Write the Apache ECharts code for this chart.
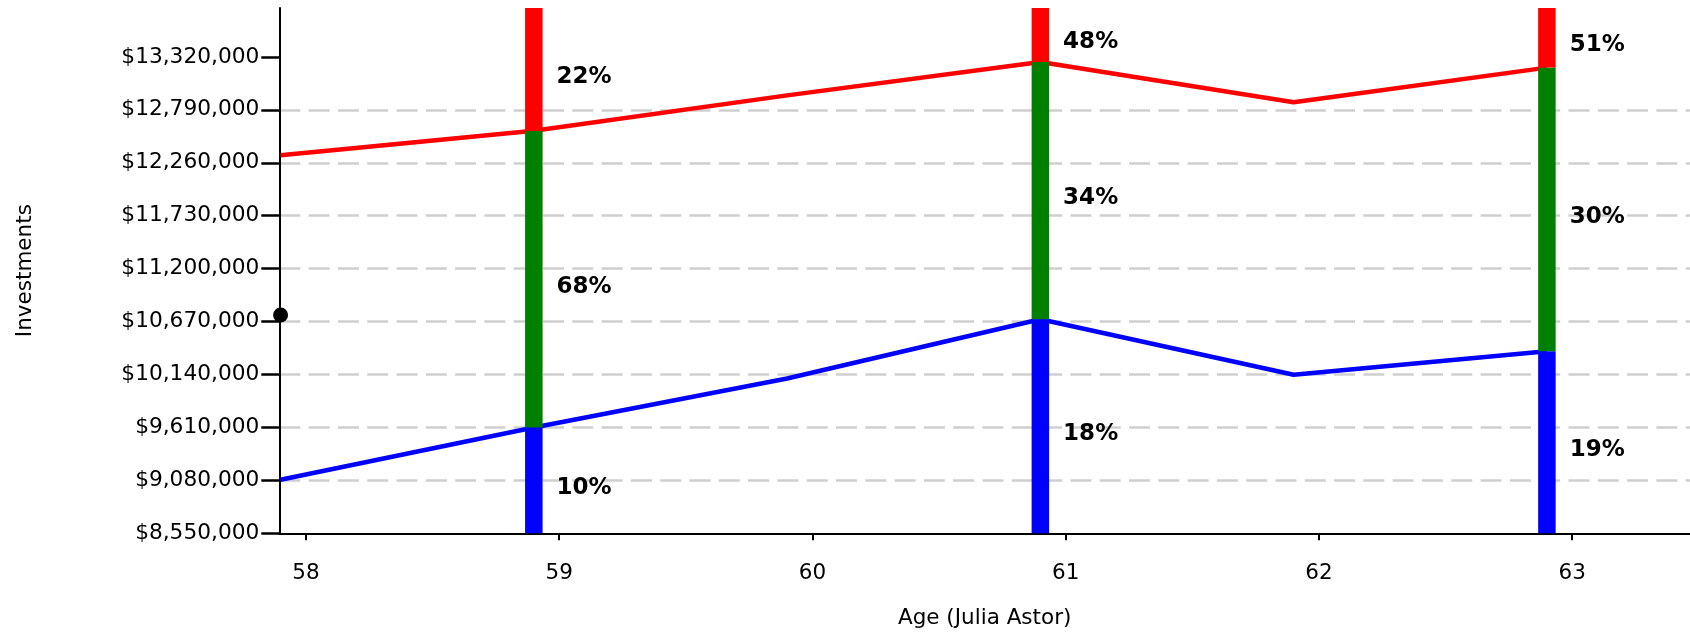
<!DOCTYPE html>
<html>
<head>
<meta charset="utf-8">
<script src="https://cdn.jsdelivr.net/npm/echarts@6/dist/echarts.min.js"></script>
<style>
  html, body { margin: 0; padding: 0; background: #ffffff; }
  #chart { width: 1690px; height: 633px; }
</style>
</head>
<body>
<div id="chart"></div>
<script>
// Projected investment range by age
const ages = [57.9, 58.9, 59.9, 60.9, 61.9, 62.9];
const lowerValues = [9087000, 9610000, 10100000, 10693000, 10138000, 10372000];
const upperValues = [12336000, 12580000, 12935000, 13270000, 12866000, 13213000];

// Ages with a split column and the share printed beside each segment
const barAges = [58.9, 60.9, 62.9];
const lowerShare = ['10%', '18%', '19%'];
const middleShare = ['68%', '34%', '30%'];
const upperShare = ['22%', '48%', '51%'];

// Current position marker
const currentAge = 57.9;
const currentValue = 10736000;

// Axes
const xTicks = [58, 59, 60, 61, 62, 63];
const yTicks = [8550000, 9080000, 9610000, 10140000, 10670000, 11200000, 11730000, 12260000, 12790000, 13320000];
const xMin = 57.895, xMax = 63.465;
const yMin = 8550000, yMax = 13810000;

const FONT = '"DejaVu Sans", Verdana, sans-serif';
const BAR_W = 17.5;

const valueAt = (arr, age) => arr[ages.indexOf(age)];

// [age, from, to] for each column segment
const lowerSeg = barAges.map(a => [a, yMin, valueAt(lowerValues, a)]);
const middleSeg = barAges.map(a => [a, valueAt(lowerValues, a), valueAt(upperValues, a)]);
const upperSeg = barAges.map(a => [a, valueAt(upperValues, a), yMax]);

function segmentSeries(name, data, color, labels) {
  return {
    name: name,
    type: 'custom',
    z: 4,
    data: data,
    encode: { x: 0, y: [1, 2] },
    renderItem: function (params, api) {
      const x = api.value(0);
      const p0 = api.coord([x, api.value(1)]);
      const p1 = api.coord([x, api.value(2)]);
      return {
        type: 'rect',
        shape: { x: p0[0] - BAR_W / 2, y: p1[1], width: BAR_W, height: p0[1] - p1[1] },
        style: { fill: color },
        textContent: {
          style: {
            text: labels[params.dataIndex],
            fill: '#000000',
            font: 'bold 23px ' + FONT
          }
        },
        textConfig: { position: 'right', distance: 14, offset: [0, 7.5] }
      };
    }
  };
}

const chart = echarts.init(document.getElementById('chart'), null, { renderer: 'canvas' });

chart.setOption({
  animation: false,
  backgroundColor: '#ffffff',
  grid: { left: 279.3, top: 8, right: 0, height: 525.3, containLabel: false, outerBoundsMode: 'none' },
  xAxis: {
    type: 'value',
    min: xMin,
    max: xMax,
    name: 'Age (Julia Astor)',
    nameLocation: 'middle',
    nameGap: 74,
    nameTextStyle: { fontFamily: FONT, fontSize: 21.5, color: '#000000' },
    axisLine: { show: true, onZero: false, lineStyle: { color: '#000000', width: 2 } },
    axisTick: { show: true, length: 7, customValues: xTicks, lineStyle: { color: '#000000', width: 2 } },
    axisLabel: {
      customValues: xTicks,
      margin: 29,
      fontFamily: FONT,
      fontSize: 21.5,
      color: '#000000',
      formatter: v => String(v)
    },
    splitLine: { show: false }
  },
  yAxis: {
    type: 'value',
    min: yMin,
    max: yMax,
    name: 'Investments',
    nameLocation: 'middle',
    nameGap: 243,
    nameTextStyle: { fontFamily: FONT, fontSize: 21.5, color: '#000000' },
    axisLine: { show: true, onZero: false, lineStyle: { color: '#000000', width: 2 } },
    axisTick: { show: true, length: 18, customValues: yTicks, lineStyle: { color: '#000000', width: 2.5 } },
    axisLabel: {
      customValues: yTicks,
      margin: 20,
      fontFamily: FONT,
      fontSize: 21.7,
      color: '#000000',
      formatter: v => '$' + Math.round(v).toLocaleString('en-US')
    },
    splitLine: {
      show: true,
      showMinLine: false,
      showMaxLine: false,
      lineStyle: { color: '#cfcfcf', width: 2.5, type: [21, 8.3] }
    }
  },
  series: [
    {
      name: 'Lower',
      type: 'line',
      z: 2,
      data: ages.map((a, i) => [a, lowerValues[i]]),
      showSymbol: false,
      lineStyle: { color: '#0000ff', width: 4.5 },
      itemStyle: { color: '#0000ff' }
    },
    {
      name: 'Upper',
      type: 'line',
      z: 2,
      data: ages.map((a, i) => [a, upperValues[i]]),
      showSymbol: false,
      lineStyle: { color: '#ff0000', width: 4.5 },
      itemStyle: { color: '#ff0000' }
    },
    segmentSeries('Below range', lowerSeg, '#0000ff', lowerShare),
    segmentSeries('Within range', middleSeg, '#008000', middleShare),
    segmentSeries('Above range', upperSeg, '#ff0000', upperShare),
    {
      name: 'Current',
      type: 'scatter',
      z: 6,
      clip: false,
      data: [[currentAge, currentValue]],
      symbolSize: 15,
      itemStyle: { color: '#000000', opacity: 1 }
    }
  ]
});
</script>
</body>
</html>
